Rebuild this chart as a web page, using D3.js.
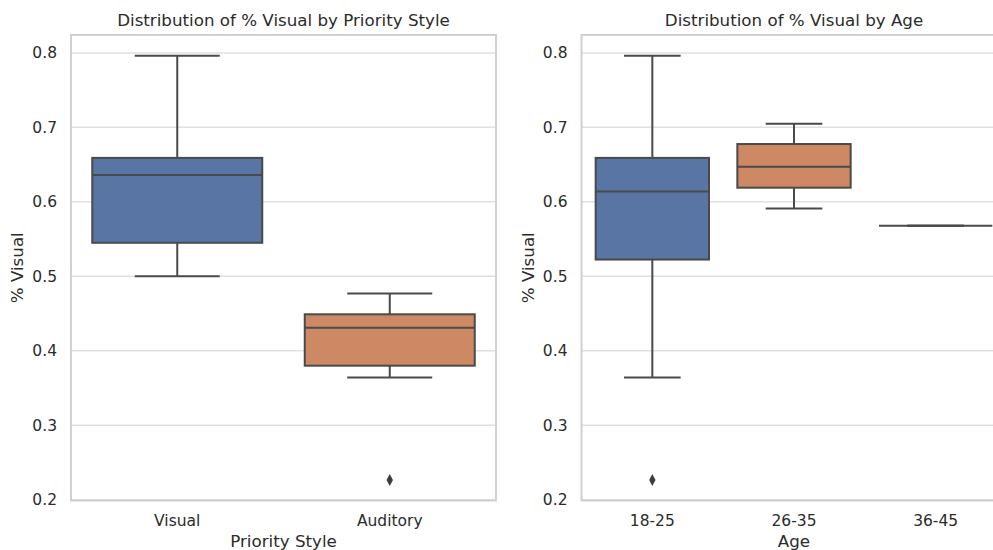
<!DOCTYPE html>
<html>
<head>
<meta charset="utf-8">
<script src="https://cdn.jsdelivr.net/npm/d3@7"></script>
<style>
  html, body { margin: 0; padding: 0; background: #fff; overflow: hidden; }
  svg { display: block; font-family: "DejaVu Sans", sans-serif; }
</style>
</head>
<body>
<svg id="chart" width="993" height="550"></svg>
<script>
// box stats: low whisker, q1, median, q3, high whisker
var styleCats = ["Visual", "Auditory"];
var styleLow = [0.500, 0.364];
var styleQ1 = [0.545, 0.380];
var styleMed = [0.636, 0.431];
var styleQ3 = [0.659, 0.449];
var styleHigh = [0.796, 0.477];
var styleOut = [[], [0.2266]];

var ageCats = ["18-25", "26-35", "36-45"];
var ageLow = [0.364, 0.591, 0.568];
var ageQ1 = [0.5225, 0.619, 0.568];
var ageMed = [0.614, 0.647, 0.568];
var ageQ3 = [0.659, 0.6776, 0.568];
var ageHigh = [0.796, 0.705, 0.568];
var ageOut = [[0.2266], [], []];

var yTicks = [0.2, 0.3, 0.4, 0.5, 0.6, 0.7, 0.8];
var colors = ["#5875a4", "#cc8963", "#5f9e6e"];
var lineColor = "#4a4a4a";
var textColor = "#2b2b2b";

var svg = d3.select("#chart");

function drawPanel(opts) {
  var left = opts.left, right = opts.right, top = 35, bottom = 500.5;

  var x = d3.scaleBand().domain(opts.cats).range([left, right]).padding(0);
  var y = d3.scaleLinear().domain([0.199, 0.824]).range([bottom, top]);

  var g = svg.append("g");

  // grid
  g.selectAll("line.grid")
    .data(yTicks)
    .enter()
    .append("line")
    .attr("class", "grid")
    .attr("x1", left).attr("x2", right)
    .attr("y1", function (d) { return y(d); })
    .attr("y2", function (d) { return y(d); })
    .attr("stroke", "#e0e0e0")
    .attr("stroke-width", 1.5);

  var bw = x.bandwidth() * 0.8;
  var boxes = g.selectAll("g.box")
    .data(opts.cats)
    .enter()
    .append("g")
    .attr("class", "box");

  function cx(d) { return x(d) + x.bandwidth() / 2; }

  // whiskers
  boxes.append("line")
    .attr("x1", cx).attr("x2", cx)
    .attr("y1", function (d, i) { return y(opts.q3[i]); })
    .attr("y2", function (d, i) { return y(opts.high[i]); })
    .attr("stroke", lineColor).attr("stroke-width", 2);
  boxes.append("line")
    .attr("x1", cx).attr("x2", cx)
    .attr("y1", function (d, i) { return y(opts.q1[i]); })
    .attr("y2", function (d, i) { return y(opts.low[i]); })
    .attr("stroke", lineColor).attr("stroke-width", 2);

  // caps
  [opts.high, opts.low].forEach(function (arr) {
    boxes.append("line")
      .attr("x1", function (d) { return cx(d) - bw / 4; })
      .attr("x2", function (d) { return cx(d) + bw / 4; })
      .attr("y1", function (d, i) { return y(arr[i]); })
      .attr("y2", function (d, i) { return y(arr[i]); })
      .attr("stroke", lineColor).attr("stroke-width", 2);
  });

  // box
  boxes.append("rect")
    .attr("x", function (d) { return cx(d) - bw / 2; })
    .attr("width", bw)
    .attr("y", function (d, i) { return y(opts.q3[i]); })
    .attr("height", function (d, i) { return y(opts.q1[i]) - y(opts.q3[i]); })
    .attr("fill", function (d, i) { return colors[i]; })
    .attr("stroke", lineColor).attr("stroke-width", 2);

  // median
  boxes.append("line")
    .attr("x1", function (d) { return cx(d) - bw / 2; })
    .attr("x2", function (d) { return cx(d) + bw / 2; })
    .attr("y1", function (d, i) { return y(opts.med[i]); })
    .attr("y2", function (d, i) { return y(opts.med[i]); })
    .attr("stroke", lineColor).attr("stroke-width", 2);

  // outliers (diamonds)
  opts.cats.forEach(function (c, i) {
    opts.out[i].forEach(function (v) {
      g.append("path")
        .attr("d", "M0,-6L3.2,0L0,6L-3.2,0Z")
        .attr("transform", "translate(" + cx(c) + "," + y(v) + ")")
        .attr("fill", "#3d3d3d");
    });
  });

  // frame
  g.append("rect")
    .attr("x", left).attr("y", top)
    .attr("width", right - left).attr("height", bottom - top)
    .attr("fill", "none")
    .attr("stroke", "#d0d0d0")
    .attr("stroke-width", 2);

  // y tick labels
  g.selectAll("text.ytick")
    .data(yTicks)
    .enter()
    .append("text")
    .attr("x", left - 14)
    .attr("y", function (d) { return y(d); })
    .attr("dy", "0.35em")
    .attr("text-anchor", "end")
    .attr("font-size", 15.5)
    .attr("fill", textColor)
    .text(function (d) { return d3.format(".1f")(d); });

  // x tick labels
  g.selectAll("text.xtick")
    .data(opts.cats)
    .enter()
    .append("text")
    .attr("x", cx)
    .attr("y", 526)
    .attr("text-anchor", "middle")
    .attr("font-size", 15.5)
    .attr("fill", textColor)
    .text(function (d) { return d; });

  // axis labels
  g.append("text")
    .attr("x", (left + right) / 2)
    .attr("y", 547)
    .attr("text-anchor", "middle")
    .attr("font-size", 16.7)
    .attr("fill", textColor)
    .text(opts.xLabel);

  g.append("text")
    .attr("transform", "translate(" + (left - 48) + "," + ((top + bottom) / 2) + ") rotate(-90)")
    .attr("text-anchor", "middle")
    .attr("font-size", 16.7)
    .attr("fill", textColor)
    .text("% Visual");

  // title
  g.append("text")
    .attr("x", (left + right) / 2)
    .attr("y", 26)
    .attr("text-anchor", "middle")
    .attr("font-size", 16.7)
    .attr("fill", textColor)
    .text(opts.title);
}

drawPanel({
  left: 71, right: 496, cats: styleCats,
  low: styleLow, q1: styleQ1, med: styleMed, q3: styleQ3, high: styleHigh, out: styleOut,
  xLabel: "Priority Style", title: "Distribution of % Visual by Priority Style"
});

drawPanel({
  left: 581.5, right: 1006.5, cats: ageCats,
  low: ageLow, q1: ageQ1, med: ageMed, q3: ageQ3, high: ageHigh, out: ageOut,
  xLabel: "Age", title: "Distribution of % Visual by Age"
});
</script>
</body>
</html>
